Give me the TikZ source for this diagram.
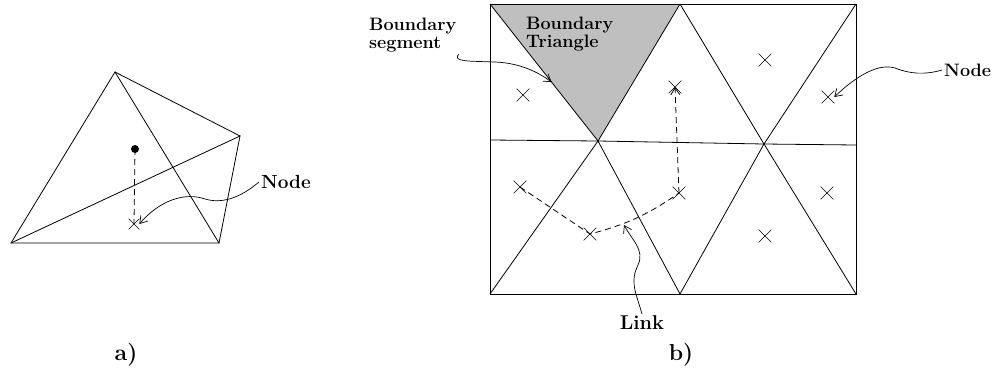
\documentclass[tikz,border=0pt]{standalone}
\usepackage{fontspec}
\usepackage{tikz}
\usetikzlibrary{arrows.meta,shapes.misc,calc}

\begin{document}
\begin{tikzpicture}[x=1pt, y=-1pt,
    mesh/.style={line width=0.8pt},
    dlink/.style={line width=0.8pt, dash pattern=on 6pt off 4pt},
    xmark/.style={cross out, draw, minimum size=12pt, inner sep=0pt, line width=0.6pt},
    dot/.style={circle, fill, inner sep=0pt, minimum size=8pt},
    pointer/.style={-{Straight Barb[length=7pt, width=9pt]}, line width=0.7pt},
    lbl/.style={font=\fontsize{18}{18}\selectfont\bfseries, inner sep=2pt, align=left},
    tag/.style={font=\fontsize{23}{24}\selectfont\bfseries, inner sep=0pt}
]
\useasboundingbox (0,0) rectangle (996,373);

% a) two elements
\coordinate (at) at (115,72);
\coordinate (ar) at (240,136);
\coordinate (abl) at (11,243);
\coordinate (abr) at (219,243);
\draw[mesh] (abl) -- (at) -- (abr) -- cycle;
\draw[mesh] (abl) -- (ar) -- (abr);
\draw[mesh] (at) -- (ar);

\node[dot] (ca) at (135,149) {};
\node[xmark, minimum size=10pt] (xa) at (134,224) {};
\draw[dlink] (ca.center) -- (xa.center);

\node[lbl, anchor=west, font=\fontsize{19}{19}\selectfont\bfseries] (nodea) at (259,182) {Node};
\draw[pointer] (nodea.west) .. controls (240,198) and (222,204) .. (205,199)
    .. controls (185,192) and (160,200) .. (xa.east);

\node[tag] (taga) at (126,355) {a)};

% b) mesh
\coordinate (bTL) at (490,4);
\coordinate (bTM) at (680,4);
\coordinate (bTR) at (856,4);
\coordinate (bML) at (490,140);
\coordinate (bC1) at (598,141);
\coordinate (bC2) at (764,144);
\coordinate (bMR) at (856,145);
\coordinate (bBL) at (490,294);
\coordinate (bBM) at (680,294);
\coordinate (bBR) at (856,294);

\fill[black!25] (bTL) -- (bTM) -- (bC1) -- cycle;
\draw[mesh] (bTL) rectangle (bBR);
\draw[mesh] (bTL) -- (bC1) -- (bTM);
\draw[mesh] (bML) -- (bC1) -- (bC2) -- (bMR);
\draw[mesh] (bBL) -- (bC1) -- (bBM);
\draw[mesh] (bTM) -- (bC2) -- (bBR);
\draw[mesh] (bTR) -- (bC2) -- (bBM);

\foreach \p [count=\i] in {(523,95),(675,87),(765,60),(828,97),(520,187),(590,234),(679,193),(827,193),(765,236)}
    \node[xmark] (x\i) at \p {};

% link between nodes
\draw[dlink] (x5.center) -- (x6.center) to[bend right=10] (x7.center);
\draw[dlink, -{Straight Barb[length=7pt, width=9pt]}] (x7.center) -- (x2.center);

% labels
\node[lbl, anchor=west] (bseg) at (367,35) {Boundary\\segment};
\coordinate (segtip) at ($(bTL)!0.57!(bC1)$);
\draw[pointer] (bseg.south east) .. controls (452,62) and (470,61) .. (495,62)
    .. controls (520,63) and (538,72) .. (segtip);

\node[lbl, anchor=west] (btri) at (524,34) {Boundary\\Triangle};

\node[lbl, anchor=west] (nodeb) at (942,70) {Node};
\draw[pointer] (nodeb.west) .. controls (925,75) and (910,74) .. (895,68)
    .. controls (875,62) and (850,82) .. (x4.east);

\node[lbl, font=\fontsize{20}{20}\selectfont\bfseries] (link) at (642,323) {Link};
\coordinate (linktip) at (624,225);
\draw[pointer] (link.north) .. controls (635,290) and (630,282) .. (638,265)
    .. controls (645,250) and (632,240) .. (linktip);

\node[tag] (tagb) at (681,355) {b)};
\end{tikzpicture}
\end{document}
